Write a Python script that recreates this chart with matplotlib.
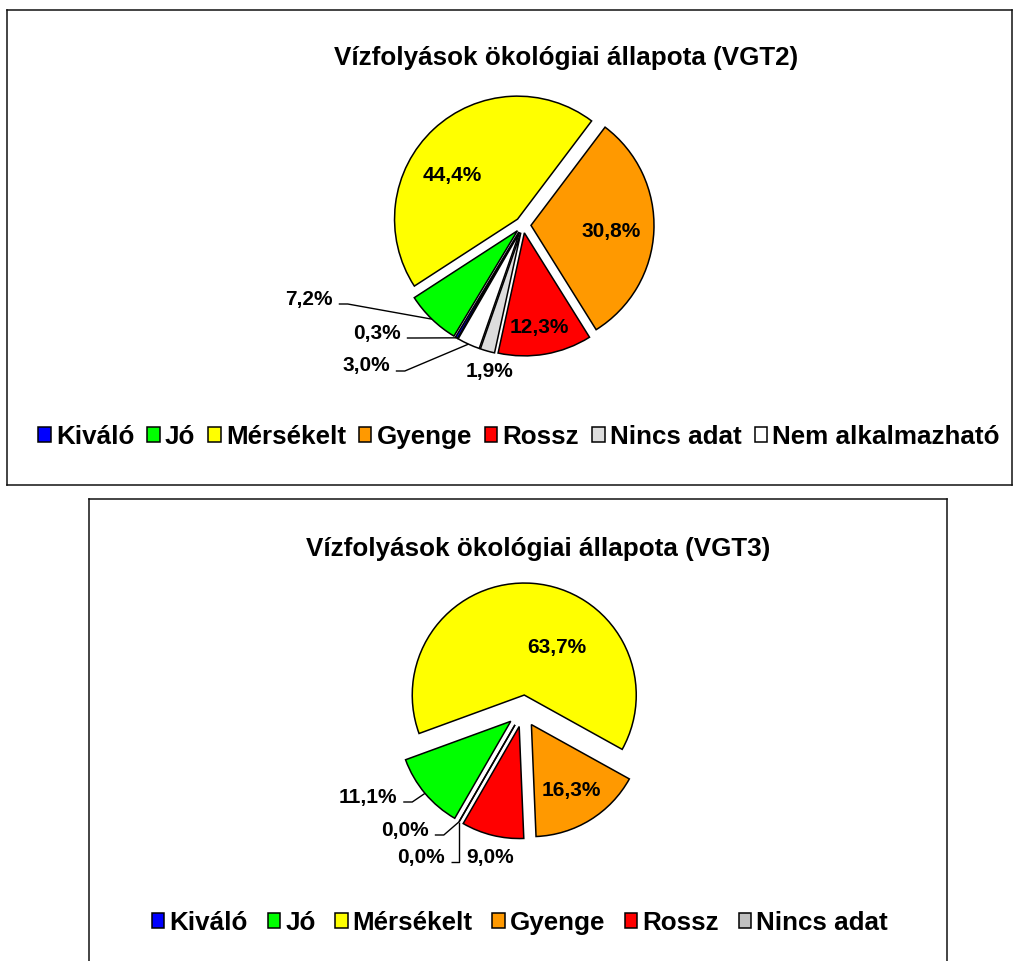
import matplotlib
matplotlib.use("Agg")
import matplotlib.pyplot as plt
import numpy as np

# ---------------- data ----------------
categories_vgt2 = ["Kiváló", "Jó", "Mérsékelt", "Gyenge", "Rossz", "Nincs adat", "Nem alkalmazható"]
values_vgt2 = [0.3, 7.2, 44.4, 30.8, 12.3, 1.9, 3.0]
colors_vgt2 = ["#0000FF", "#00FF00", "#FFFF00", "#FF9900", "#FF0000", "#DDDDDD", "#FFFFFF"]
title_vgt2 = "Vízfolyások ökológiai állapota (VGT2)"

categories_vgt3 = ["Kiváló", "Jó", "Mérsékelt", "Gyenge", "Rossz", "Nincs adat"]
values_vgt3 = [0.0, 11.1, 63.7, 16.3, 9.0, 0.0]
colors_vgt3 = ["#0000FF", "#00FF00", "#FFFF00", "#FF9900", "#FF0000", "#C0C0C0"]
title_vgt3 = "Vízfolyások ökológiai állapota (VGT3)"

# ---------------- layout (pixels, y from top) ----------------
W, H = 1016, 961
FONT = "Liberation Sans"
TITLE_SIZE = 18.7
LABEL_SIZE = 15.0

layout_vgt2 = dict(
    box=(7, 10, 1012, 485), center=(523, 225), radius=123, explode=8,
    title_xy=(566, 58), legend_xy=(519, 437), colspacing=0.5,
    label_xy=[(377, 333), (309, 299), (452, 176), (611, 232), (539, 328), (490, 372), (366, 366)],
    leader=[True, True, False, False, False, False, True],
)
layout_vgt3 = dict(
    box=(89, 499, 947, 980), center=(523, 711), radius=112, explode=16,
    title_xy=(538, 549), legend_xy=(520, 923), colspacing=0.75,
    label_xy=[(405, 830), (368, 797), (557, 647), (571, 790), (490, 857), (421, 857)],
    leader=[True, True, False, False, False, True],
)

START_ANGLE = 90 - 210  # first slice at 210 degrees clockwise from 12 o'clock

fig = plt.figure(figsize=(W / 100, H / 100), dpi=100)
fig.patch.set_facecolor("white")


def fmt(v):
    return f"{v:.1f}".replace(".", ",") + "%"


def draw_chart(cats, vals, cols, title, lay):
    x0, y0, x1, y1 = lay["box"]
    ax = fig.add_axes([x0 / W, 1 - y1 / H, (x1 - x0) / W, (y1 - y0) / H])
    cx, cy = lay["center"]
    wedges, _ = ax.pie(
        vals, colors=cols, startangle=START_ANGLE, counterclock=False,
        center=(cx, H - cy), radius=lay["radius"],
        explode=[lay["explode"]] * len(vals),
        wedgeprops=dict(edgecolor="black", linewidth=1.1),
        normalize=True,
    )
    ax.set_aspect("auto")
    ax.set_xlim(x0, x1)
    ax.set_ylim(H - y1, H - y0)
    ax.set_frame_on(True)
    ax.set_xticks([])
    ax.set_yticks([])
    for s in ax.spines.values():
        s.set_linewidth(1.1)
        s.set_color("#111111")

    tx, ty = lay["title_xy"]
    ax.text(tx, H - ty, title, ha="center", va="center", fontsize=TITLE_SIZE,
            fontweight="bold", family=FONT)

    texts = []
    for v, (lx, ly) in zip(vals, lay["label_xy"]):
        t = ax.text(lx, H - ly, fmt(v), ha="center", va="center",
                    fontsize=LABEL_SIZE, fontweight="bold", family=FONT)
        texts.append(t)

    lx, ly = lay["legend_xy"]
    ax.legend(wedges, cats, loc="center", bbox_to_anchor=(lx, H - ly),
              bbox_transform=ax.transData, ncol=len(cats), frameon=False,
              prop=dict(family=FONT, weight="bold", size=TITLE_SIZE),
              handlelength=0.48, handleheight=0.5, handletextpad=0.2,
              columnspacing=lay["colspacing"], borderaxespad=0, borderpad=0)
    return ax, wedges, texts


charts = [
    draw_chart(categories_vgt2, values_vgt2, colors_vgt2, title_vgt2, layout_vgt2),
    draw_chart(categories_vgt3, values_vgt3, colors_vgt3, title_vgt3, layout_vgt3),
]

fig.canvas.draw()
renderer = fig.canvas.get_renderer()
for (ax, wedges, texts), lay in zip(charts, [layout_vgt2, layout_vgt3]):
    inv = ax.transData.inverted()
    for w, t, has_leader, (lx, ly) in zip(wedges, texts, lay["leader"], lay["label_xy"]):
        if not has_leader:
            continue
        bb = t.get_window_extent(renderer)
        right = inv.transform([[bb.x1, bb.y0]])[0][0]
        th = np.deg2rad(0.5 * (w.theta1 + w.theta2))
        wx, wy = w.center
        px = wx + w.r * np.cos(th)
        py = wy + w.r * np.sin(th)
        yline = H - ly - 5
        xs = right + 6
        xe = min(xs + 9, px)
        ax.plot([xs, xe, px], [yline, yline, py], color="black", lw=1.0,
                solid_capstyle="butt", clip_on=False)

fig.savefig("out.png", dpi=100, facecolor="white")
